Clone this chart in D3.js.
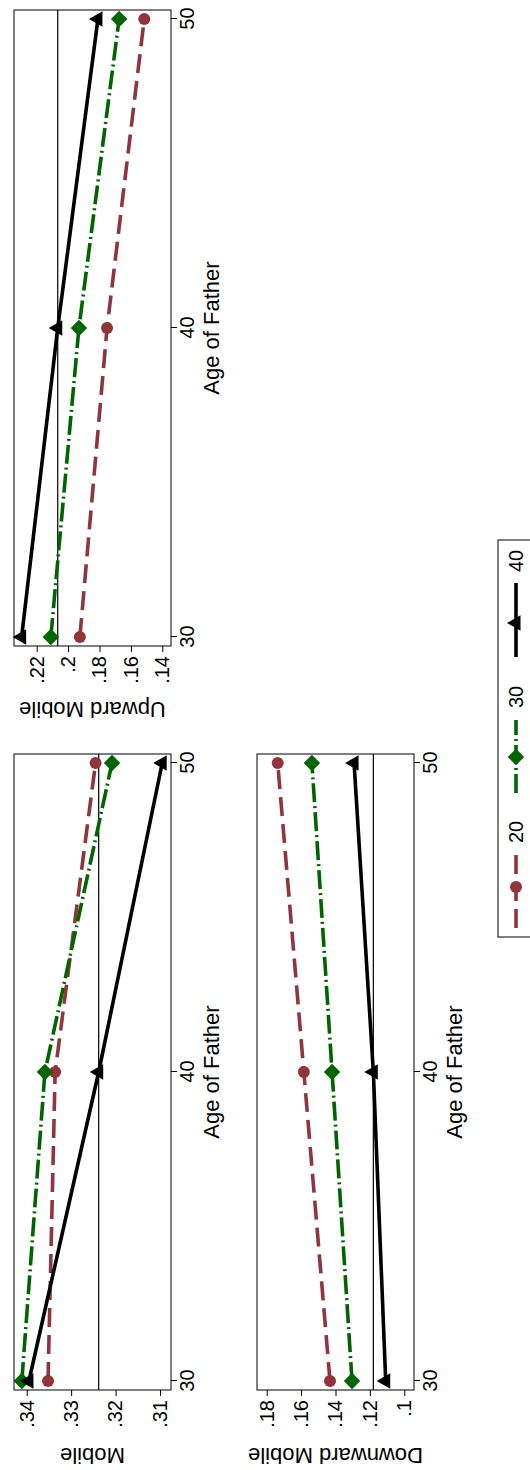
<!DOCTYPE html>
<html><head><meta charset="utf-8">
<script src="https://cdn.jsdelivr.net/npm/d3@7"></script>
<style>
body{margin:0;background:#fff}
text{font-family:"Liberation Sans",Arial,Helvetica,sans-serif;fill:#000}
</style>
</head><body>
<svg id="chart" width="530" height="1470"></svg>
<script>
// ---- data ----
const ages = [30, 40, 50];
const seriesNames = ["20", "30", "40"];

const mobile20 = [0.3352, 0.3336, 0.3245];
const mobile30 = [0.3411, 0.3359, 0.3208];
const mobile40 = [0.3395, 0.3238, 0.3095];
const mobileRef = 0.3238;
const mobileTicks = [0.31, 0.32, 0.33, 0.34];

const upward20 = [0.1925, 0.1752, 0.1515];
const upward30 = [0.2110, 0.1931, 0.1675];
const upward40 = [0.2296, 0.2066, 0.1810];
const upwardRef = 0.2066;
const upwardTicks = [0.14, 0.16, 0.18, 0.20, 0.22];

const downward20 = [0.1432, 0.1584, 0.1736];
const downward30 = [0.1304, 0.1420, 0.1537];
const downward40 = [0.1108, 0.1180, 0.1292];
const downwardRef = 0.1180;
const downwardTicks = [0.10, 0.12, 0.14, 0.16, 0.18];

const xTicks = [30, 40, 50];

// ---- styles ----
const styles = {
  "20": {color: "#90353b", dash: "19,8", symbol: "circle"},
  "30": {color: "#006400", dash: "19,4,2,4", symbol: "diamond"},
  "40": {color: "#000000", dash: null, symbol: "triangle"}
};

const svg = d3.select("#chart");
// the whole graph is drawn in landscape and rotated 90° counter-clockwise
const root = svg.append("g").attr("transform", "translate(0,1470) rotate(-90)");

function marker(sel, kind, color) {
  if (kind === "circle") {
    sel.append("circle").attr("r", 6).attr("fill", color);
  } else if (kind === "diamond") {
    sel.append("path").attr("d", d3.symbol(d3.symbolSquare, 135)()).attr("transform", "rotate(45)").attr("fill", color);
  } else {
    sel.append("path").attr("d", d3.symbol(d3.symbolTriangle, 105)()).attr("fill", color);
  }
}

const fmt = v => String(+v.toFixed(2)).replace(/^0\./, ".");

const panels = [
  {title: "Mobile", s: [mobile20, mobile30, mobile40], ref: mobileRef, ticks: mobileTicks,
   left: 80, top: 14, dom: [0.31, 0.34], r: [146, 12.7], titleX: 22},
  {title: "Upward Mobile", s: [upward20, upward30, upward40], ref: upwardRef, ticks: upwardTicks,
   left: 824, top: 14, dom: [0.14, 0.22], r: [148.3, 22.7], titleX: 768},
  {title: "Downward Mobile", s: [downward20, downward30, downward40], ref: downwardRef, ticks: downwardTicks,
   left: 80, top: 257, dom: [0.10, 0.18], r: [147.3, 9.7], titleX: 22}
];
const W = 636, H = 157, pad = 9;

panels.forEach(p => {
  const g = root.append("g").attr("transform", `translate(${p.left},${p.top})`);
  const x = d3.scaleLinear().domain([30, 50]).range([pad, W - pad]);
  const y = d3.scaleLinear().domain(p.dom).range(p.r);

  g.append("rect").attr("width", W).attr("height", H)
    .attr("fill", "none").attr("stroke", "#000").attr("stroke-width", 1);

  // reference line
  g.append("line").attr("x1", 0).attr("x2", W)
    .attr("y1", y(p.ref)).attr("y2", y(p.ref))
    .attr("stroke", "#000").attr("stroke-width", 1.2);

  // axes
  const ya = g.append("g").call(d3.axisLeft(y).tickValues(p.ticks).tickFormat(fmt).tickSize(6).tickPadding(4));
  const xa = g.append("g").attr("transform", `translate(0,${H})`)
    .call(d3.axisBottom(x).tickValues(xTicks).tickFormat(d3.format("d")).tickSize(6).tickPadding(3));
  [ya, xa].forEach(a => {
    a.select(".domain").remove();
    a.selectAll("line").attr("stroke", "#000");
    a.selectAll("text").attr("font-size", 20).attr("font-family", "Liberation Sans, Arial, sans-serif").attr("fill", "#000");
  });

  g.append("text").attr("x", W / 2).attr("y", H + 48).attr("text-anchor", "middle")
    .attr("font-size", 22).text("Age of Father");
  g.append("text").attr("transform", `translate(${p.titleX - p.left},${H / 2}) rotate(-90)`)
    .attr("text-anchor", "middle").attr("font-size", 22).text(p.title);

  // series
  p.s.forEach((vals, i) => {
    const st = styles[seriesNames[i]];
    const pts = ages.map((a, j) => [x(a), y(vals[j])]);
    g.append("path").attr("d", d3.line()(pts)).attr("fill", "none")
      .attr("stroke", st.color).attr("stroke-width", 3.6)
      .attr("stroke-dasharray", st.dash);
    pts.forEach(pt => {
      const m = g.append("g").attr("transform", `translate(${pt[0]},${pt[1]})`);
      marker(m, st.symbol, st.color);
    });
  });
});

// legend
const lg = root.append("g").attr("transform", "translate(533,498)");
lg.append("rect").attr("width", 397).attr("height", 80).attr("fill", "#fff").attr("stroke", "#000").attr("stroke-width", 1);
const legendItems = [
  {name: "20", x0: 9, x1: 90, m: 50, tx: 94},
  {name: "30", x0: 144, x1: 217, m: 180, tx: 229},
  {name: "40", x0: 280, x1: 354, m: 314, tx: 365}
];
legendItems.forEach(it => {
  const st = styles[it.name];
  lg.append("line").attr("x1", it.x0).attr("x2", it.x1).attr("y1", 18).attr("y2", 18)
    .attr("stroke", st.color).attr("stroke-width", 3.6).attr("stroke-dasharray", st.dash);
  const m = lg.append("g").attr("transform", `translate(${it.m},18)`);
  marker(m, st.symbol, st.color);
  lg.append("text").attr("x", it.tx).attr("y", 25).attr("font-size", 20).text(it.name);
});
</script>
</body></html>
